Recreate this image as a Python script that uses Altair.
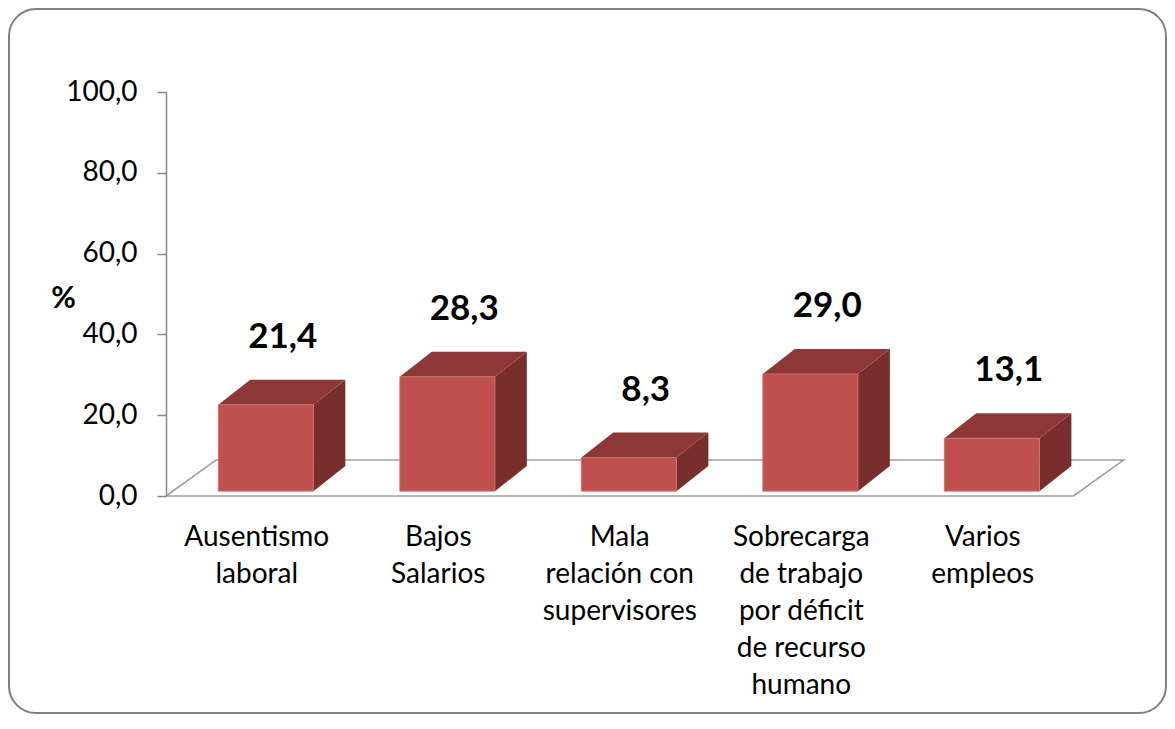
import altair as alt
import pandas as pd

# ---- data ----
categories = ["Ausentismo laboral", "Bajos Salarios", "Mala relación con supervisores",
              "Sobrecarga de trabajo por déficit de recurso humano", "Varios empleos"]
axis_labels = ["Ausentismo\nlaboral", "Bajos\nSalarios", "Mala\nrelación con\nsupervisores",
               "Sobrecarga\nde trabajo\npor déficit\nde recurso\nhumano", "Varios\nempleos"]
values = [21.4, 28.3, 8.3, 29.0, 13.1]
y_ticks = [0, 20, 40, 60, 80, 100]

# ---- 3D geometry (in data units) ----
HW, SX, SY = 0.262, 0.05, 1.2      # half bar width, depth shift of bar front
BDX, BDY = 0.176, 6.2              # bar depth
FDX, FDY = 0.275, 8.9              # floor depth
N = len(categories)

front, top, side, lab = [], [], [], []
for i, (cat, v) in enumerate(zip(categories, values)):
    c = i + 0.5
    front.append({"cat": cat, "x": c - HW + SX, "x2": c + HW + SX, "y": SY, "y2": v + SY})
    for t in (0, 1):
        top.append({"cat": cat, "y": v + SY + t * BDY,
                    "xa": c - HW + SX + t * BDX, "xb": c + HW + SX + t * BDX})
        side.append({"cat": cat, "x": c + HW + SX + t * BDX,
                     "ya": SY + t * BDY, "yb": v + SY + t * BDY})
    lab.append({"cat": cat, "x": c, "v": v, "lbl": f"{v:.1f}".replace(".", ","),
                "name": axis_labels[i]})

front = pd.DataFrame(front)
top = pd.DataFrame(top)
side = pd.DataFrame(side)
lab = pd.DataFrame(lab)
lab["ly"] = lab["v"] + 18.0
lab["lx"] = lab["x"] + 0.143
floor = pd.DataFrame({"y": [0, FDY], "xa": [0, FDX], "xb": [N, N + FDX]})

W, H = 962, 404
xs = alt.Scale(domain=[0, 5.3], nice=False, zero=False)
ys = alt.Scale(domain=[0, 100], nice=False)

border = alt.Chart(pd.DataFrame({"a": [0]})).mark_rect(
    fill="#FFFFFF", stroke="#808080", strokeWidth=2, cornerRadius=27
).encode(x=alt.value(-157), x2=alt.value(1000), y=alt.value(-83), y2=alt.value(621))

floor_l = alt.Chart(floor).mark_area(
    orient="horizontal", fill="#FFFFFF", stroke="#A0A0A0", strokeWidth=1.6
).encode(
    y=alt.Y("y:Q", scale=ys, axis=alt.Axis(
        values=y_ticks, labelExpr="replace(format(datum.value, '.1f'), '.', ',')",
        grid=False, domainColor="#878787", domainWidth=1.5, tickColor="#878787",
        tickWidth=1.5, tickSize=9, labelPadding=20, labelFont="Lato", labelFontSize=28,
        labelColor="#000000", title="%", titleAngle=0, titleFont="Lato",
        titleFontSize=30, titleFontWeight="bold", titleColor="#000000",
        titleX=-103, titleY=206, titleAlign="center", titleBaseline="middle",
        zindex=2)),
    x=alt.X("xa:Q", scale=xs, axis=None),
    x2="xb:Q",
)

front_l = alt.Chart(front).mark_rect(color="#C0504D", stroke="#CF7472", strokeWidth=0.8).encode(
    x=alt.X("x:Q", scale=xs), x2="x2:Q", y=alt.Y("y:Q", scale=ys), y2="y2:Q")

top_l = alt.Chart(top).mark_area(orient="horizontal", color="#8D3836").encode(
    y=alt.Y("y:Q", scale=ys), x=alt.X("xa:Q", scale=xs), x2="xb:Q", detail="cat:N")

side_l = alt.Chart(side).mark_area(orient="vertical", color="#782E2C").encode(
    x=alt.X("x:Q", scale=xs), y=alt.Y("yb:Q", scale=ys), y2="ya:Q", detail="cat:N")

val_l = alt.Chart(lab).mark_text(
    font="Lato", fontSize=35, fontWeight="bold", color="#000000", baseline="middle"
).encode(x=alt.X("lx:Q", scale=xs), y=alt.Y("ly:Q", scale=ys), text="lbl:N")

cat_l = alt.Chart(lab).mark_text(
    font="Lato", fontSize=28, color="#000000", baseline="alphabetic", lineBreak="\n",
    lineHeight=37
).encode(x=alt.X("x:Q", scale=xs), y=alt.value(454), text="name:N")

chart = alt.layer(border, floor_l, side_l, top_l, front_l, val_l, cat_l).properties(
    width=W, height=H,
    autosize=alt.AutoSizeParams(type="none"),
    padding={"left": 158, "top": 84, "right": 39, "bottom": 218},
    background="#FFFFFF",
).configure_view(stroke=None)

chart.save("out.html", embed_options={"renderer": "svg", "actions": False})
